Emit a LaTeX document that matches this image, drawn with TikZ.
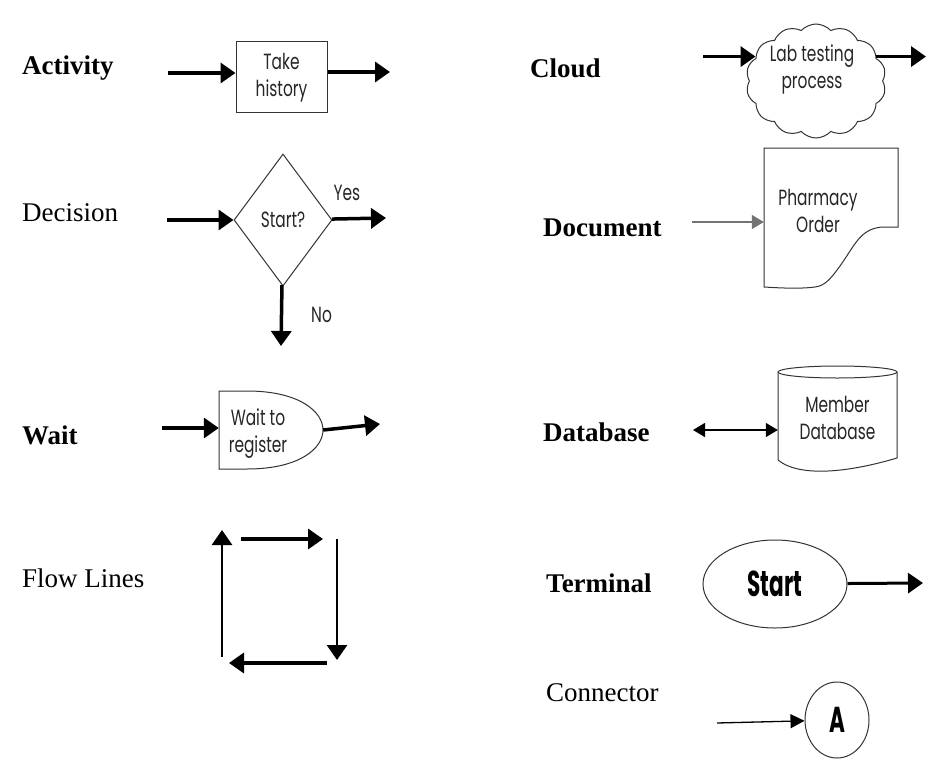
\documentclass[tikz,border=0pt]{standalone}
\usepackage{fontspec}
\setmainfont{Liberation Serif}
\newfontfamily\gothic[FakeStretch=0.7]{Poppins}
\newfontfamily\gothicnarrow[FakeStretch=0.6]{Poppins}
\usetikzlibrary{arrows.meta,shapes.geometric,shapes.symbols,positioning}

\begin{document}
\begin{tikzpicture}[x=1pt,y=-1pt,
  lbl/.style={anchor=west,inner sep=0pt,font=\fontsize{27}{30}\selectfont},
  txt/.style={align=center,inner sep=0pt,font=\gothic\fontsize{22}{27}\selectfont,text=black!85},
  big/.style={font=\gothicnarrow\bfseries\fontsize{36}{38}\selectfont},
  outline/.style={draw=black!80,line width=1pt},
  frame/.style={inner sep=0pt,draw=none},
  fat/.style={-{Triangle[length=15pt,width=20pt]},line width=3.5pt},
  slim/.style={-{Triangle[length=12pt,width=14pt]},line width=1.3pt}]
  \useasboundingbox[fill=white] (0,0) rectangle (928,765);

  % left column
  \node[lbl,font=\bfseries\fontsize{27}{30}\selectfont] (lact) at (22,68) {Activity};
  \node[lbl] (ldec) at (22,213) {Decision};
  \node[lbl,font=\bfseries\fontsize{27}{30}\selectfont] (lwait) at (22,435) {Wait};
  \node[lbl] (lflow) at (22,578) {Flow Lines};

  \node[txt,outline,minimum width=91pt,minimum height=71pt] (take) at (281.5,77.5) {Take\\history};
  \coordinate (a1) at (168,73);
  \coordinate (a2) at (390,72);

  \node[txt,diamond,outline,minimum width=98pt,minimum height=132pt] (dec) at (283,220) {Start?};
  \node[txt] (yes) [above right=19pt and 1pt of dec.east] {Yes};
  \node[txt] (no) [below right=20pt and 28pt of dec.south] {No};
  \coordinate (d1) at (167,220);
  \coordinate (d2) at (386,218);
  \coordinate (d3) at (281,346);

  \draw[outline] (219,391) -- (247,391) .. controls (300,391) and (323,412) .. (323,430)
    .. controls (323,448) and (300,469) .. (247,469) -- (219,469) -- cycle;
  \node[frame,minimum width=104pt,minimum height=78pt] (wait) at (271,430) {};
  \node[txt] (waittxt) at (258,434) {Wait to\\register};
  \coordinate (w1) at (162,428);
  \coordinate (w2) at (380,424);

  \coordinate (f1) at (222,657);
  \coordinate (f2) at (222,530);
  \coordinate (f3) at (241,539);
  \coordinate (f4) at (323,539);
  \coordinate (f5) at (337,539);
  \coordinate (f6) at (337,660);
  \coordinate (f7) at (327,663);
  \coordinate (f8) at (229,663);

  % right column
  \node[lbl,font=\bfseries\fontsize{27}{30}\selectfont] (lcld) at (530,68) {Cloud};
  \node[lbl,font=\bfseries\fontsize{27}{30}\selectfont] (ldoc) at (543,228) {Document};
  \node[lbl,font=\bfseries\fontsize{27}{30}\selectfont] (ldb) at (543,432) {Database};
  \node[lbl,font=\bfseries\fontsize{27}{30}\selectfont] (lterm) at (546,583) {Terminal};
  \node[lbl] (lconn) at (546,693) {Connector};

  \node[cloud,outline,cloud puffs=14,cloud puff arc=95,aspect=1.2,
        minimum width=140pt,minimum height=114pt] (cld) at (816,81) {};
  \node[txt] (cldtxt) at (812,69) {Lab testing\\process};
  \coordinate (c1) at (703,53);
  \coordinate (c2) at (926,53);

  \draw[outline] (764,148) -- (898,148) -- (898,227) -- (882,227)
    .. controls (860,229) and (855,245) .. (840,266)
    .. controls (830,280) and (824,286) .. (815,287)
    .. controls (800,289) and (780,288) .. (764,287) -- cycle;
  \node[frame,minimum width=134pt,minimum height=139pt] (doc) at (831,217.5) {};
  \node[txt] (doctxt) at (818,211) {Pharmacy\\Order};
  \coordinate (p1) at (692,222);

  \draw[outline] (778,372) -- (778,460) .. controls (800,478) and (850,472) .. (897,458) -- (897,372);
  \draw[outline] (837.5,372) ellipse [x radius=59.5,y radius=6];
  \node[txt,frame,minimum width=119pt,minimum height=100pt] (db) at (837.5,418) {Member\\Database};
  \coordinate (b1) at (693,430);

  \node[ellipse,outline,big,minimum width=144pt,minimum height=88pt] (term) at (775,584) {Start};
  \coordinate (t1) at (923,583);

  \node[ellipse,outline,big,minimum width=64pt,minimum height=76pt] (conn) at (837,720) {A};
  \coordinate (k1) at (717,723);

  \path
(a1) edge[fat] (take.west |- a1)
(take.east |- a2) edge[fat] (a2)
(d1) edge[fat] (dec)
(dec) edge[fat] (d2)
(dec) edge[fat] (d3)
(w1) edge[fat] (wait.west |- w1)
(wait.east) edge[fat] (w2)
(f1) edge[fat,line width=2.8pt] (f2)
(f3) edge[fat] (f4)
(f5) edge[fat,line width=2.8pt] (f6)
(f7) edge[fat] (f8)
(c1 |- cld.158) edge[fat] (cld.158)
(cld.22) edge[fat] (c2 |- cld.22)
(p1) edge[slim,draw=black!55] (doc.west |- p1)
(b1) edge[slim,{Triangle[length=12pt,width=14pt]}-{Triangle[length=12pt,width=14pt]}] (db.west |- b1)
(term) edge[fat,line width=3pt] (t1)
(k1) edge[slim,-{Triangle[length=14pt,width=14pt]}] (conn)
;
\end{tikzpicture}
\end{document}
